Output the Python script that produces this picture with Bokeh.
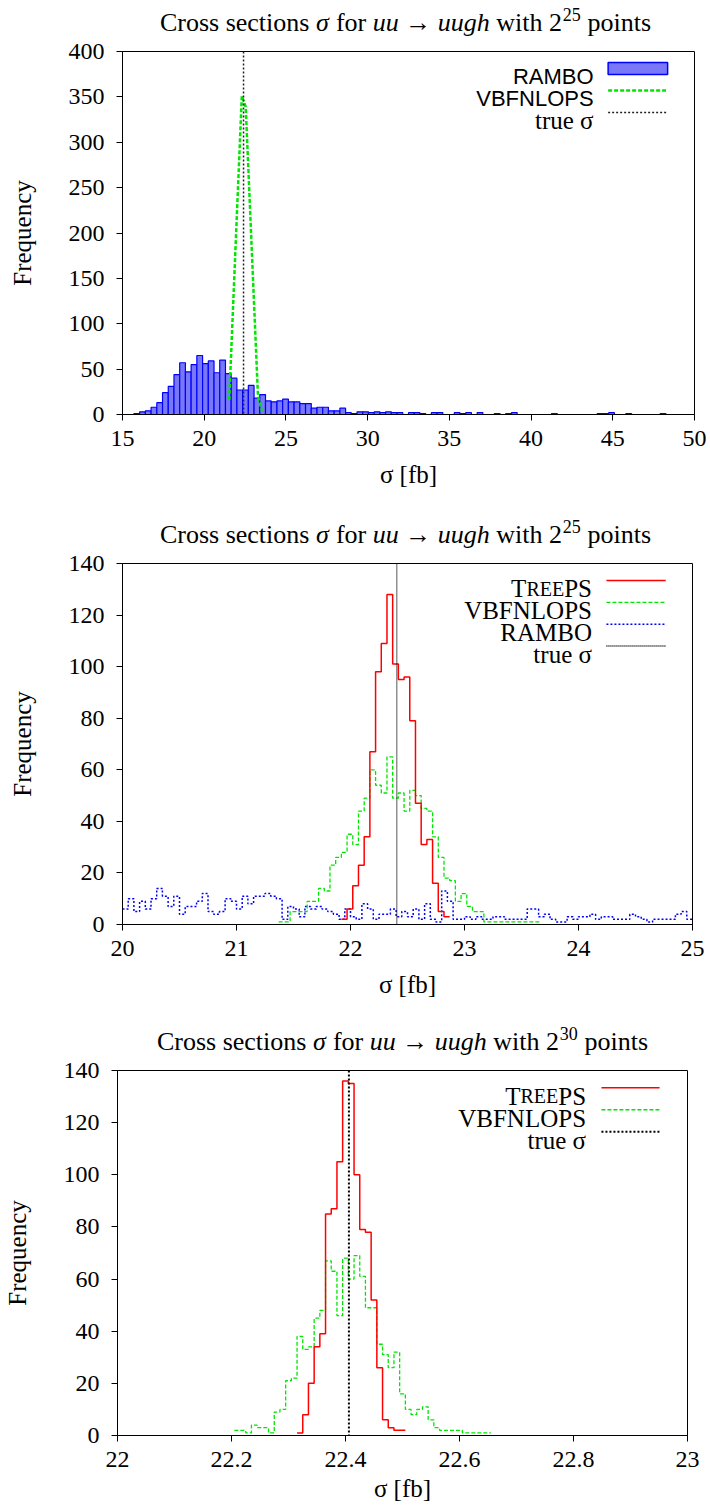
from bokeh.plotting import figure
from bokeh.models import Range1d, FixedTicker, Label, Span
from bokeh.layouts import column, row
from bokeh.embed import file_html
from bokeh.resources import INLINE

# ---------------- data ----------------
true_sigma = 22.406

# Panel 1: 2^25 points, wide range
p1_sup = "25"
p1_x_ticks = [15, 20, 25, 30, 35, 40, 45, 50]
p1_y_ticks = [0, 50, 100, 150, 200, 250, 300, 350, 400]
rambo1_start = 15.0
rambo1_width = 0.35
rambo1_counts = [0, 0, 1, 3, 4, 8, 13, 24, 31, 44, 57, 47, 55, 65, 56, 59, 46, 60, 45, 40,
                 27, 27, 32, 18, 22, 15, 14, 15, 17, 14, 14, 12, 12, 7, 8, 8, 4, 4, 7, 2,
                 1, 3, 3, 2, 3, 2, 3, 2, 2, 0, 2, 2, 1, 0, 2, 2, 0, 0, 2, 1,
                 2, 0, 2, 0, 0, 1, 0, 1, 2, 0, 0, 0, 0, 0, 0, 1, 0, 0, 0, 0,
                 0, 0, 0, 1, 1, 2, 0, 0, 1, 0, 0, 0, 0, 0, 1, 0, 0, 0, 0, 0]
vbf1_x = [21.53, 22.30, 22.54, 23.29, 23.53]
vbf1_y = [16, 351, 339, 20, 4]

# Panel 2: 2^25 points, zoomed
p2_sup = "25"
p2_x_ticks = [20, 21, 22, 23, 24, 25]
p2_y_ticks = [0, 20, 40, 60, 80, 100, 120, 140]
bin2_width = 0.05
tree2_start = 21.92
tree2_counts = [2, 6, 15, 23, 34, 67, 98, 109, 128, 101, 95, 96, 79, 47, 31, 33, 16, 5, 3]
vbf2_start = 21.37
vbf2_counts = [1, 1, 5, 5, 5, 9, 9, 14, 13, 23, 26, 28, 35, 31, 44, 49, 60, 54, 51, 65,
               49, 51, 44, 52, 50, 45, 44, 34, 26, 18, 17, 9, 12, 7, 5, 5, 1, 1, 1, 1,
               1, 1, 1, 1, 1, 1]
rambo2_start = 20.0
rambo2_counts = [6, 10, 5, 9, 6, 10, 14, 11, 7, 11, 4, 7, 7, 9, 12, 5, 4, 5, 10, 9,
                 6, 11, 8, 11, 11, 12, 11, 10, 2, 7, 6, 3, 7, 6, 7, 6, 5, 4, 2, 6,
                 3, 2, 8, 6, 2, 4, 4, 6, 3, 5, 3, 6, 2, 8, 2, 1, 13, 9, 2, 2,
                 3, 2, 3, 2, 2, 3, 3, 2, 2, 2, 2, 6, 6, 3, 4, 2, 1, 1, 3, 2,
                 3, 3, 4, 2, 3, 3, 2, 2, 2, 4, 3, 2, 1, 2, 2, 2, 2, 4, 5, 2]

# Panel 3: 2^30 points
p3_sup = "30"
p3_x_ticks = [22, 22.2, 22.4, 22.6, 22.8, 23]
p3_x_labels = ["22", "22.2", "22.4", "22.6", "22.8", "23"]
p3_y_ticks = [0, 20, 40, 60, 80, 100, 120, 140]
bin3_width = 0.01
tree3_start = 22.315
tree3_counts = [1, 8, 20, 34, 39, 85, 87, 105, 136, 135, 100, 79, 78, 52, 26, 6, 3, 2, 2]
vbf3_start = 22.205
vbf3_counts = [2, 2, 1, 4, 3, 3, 1, 9, 10, 21, 22, 38, 33, 34, 45, 48, 67, 63, 46, 68,
               60, 69, 61, 49, 49, 35, 31, 26, 32, 16, 10, 8, 10, 11, 6, 3, 2, 2, 2, 2,
               1, 1, 1, 1, 1]

# ---------------- styling ----------------
SERIF = "Liberation Serif"
SANS = "Liberation Sans"
RED = "#ff0000"
GREEN = "#00e600"
BLUE = "#0000ff"
TITLE_PX = 26
W = 710


def make_fig(height, xr, yr, xticks, yticks, top, bottom, left, right):
    p = figure(width=W, height=height, x_range=Range1d(*xr), y_range=Range1d(*yr),
               output_backend="svg", toolbar_location=None)
    p.min_border_top = top
    p.min_border_bottom = bottom
    p.min_border_left = left
    p.min_border_right = right
    p.xgrid.visible = False
    p.ygrid.visible = False
    p.background_fill_color = "white"
    p.border_fill_color = "white"
    p.outline_line_color = "black"
    p.outline_line_alpha = 1
    p.outline_line_width = 1
    for ax in (p.xaxis[0], p.yaxis[0]):
        ax.major_label_text_font = SERIF
        ax.major_label_text_font_size = "24px"
        ax.major_label_text_color = "black"
        ax.axis_label_text_font = SERIF
        ax.axis_label_text_font_size = "25px"
        ax.axis_label_text_font_style = "normal"
        ax.axis_label_text_color = "black"
        ax.minor_tick_line_color = None
        ax.major_tick_in = 0
        ax.major_tick_out = 6
        ax.major_tick_line_color = "black"
        ax.axis_line_color = "black"
    p.xaxis.ticker = FixedTicker(ticks=xticks)
    p.yaxis.ticker = FixedTicker(ticks=yticks)
    p.xaxis.axis_label = "σ [fb]"
    p.yaxis.axis_label = "Frequency"
    p.xaxis.major_label_standoff = 10
    p.xaxis.axis_label_standoff = 12
    p.yaxis.major_label_standoff = 12
    p.yaxis.axis_label_standoff = 30
    return p


def title_strip(height, center_px, baseline_from_top, sup):
    t = figure(width=W, height=height, x_range=Range1d(0, W), y_range=Range1d(0, height),
               output_backend="svg", toolbar_location=None, min_border=0)
    t.axis.visible = False
    t.xgrid.visible = False
    t.ygrid.visible = False
    t.outline_line_color = None
    t.background_fill_color = "white"
    t.border_fill_color = "white"
    # pieces: (text, italic, size factor, left offset in em/1000, raise in em, align)
    pieces = [("Cross", False, 1.0, 0, 0, "left"),
              ("sections", False, 1.0, 2528, 0, "left"),
              ("σ", True, 1.0, 6000, 0, "left"),
              ("for", False, 1.0, 6770, 0, "left"),
              ("uu", True, 1.0, 8186, 0, "left"),
              ("→", False, 1.0, 9936, 0, "center"),
              ("uugh", True, 1.0, 10686, 0, "left"),
              ("with", False, 1.0, 12936, 0, "left"),
              ("2", False, 1.0, 14964, 0, "left"),
              (sup, False, 0.7, 15494, 0.31, "left"),
              ("points", False, 1.0, 16444, 0, "left")]
    total = 18889
    yb = height - baseline_from_top
    for txt, ital, sf, off, rise, align in pieces:
        t.add_layout(Label(x=center_px + (off - total / 2) * TITLE_PX / 1000.0,
                           y=yb + rise * TITLE_PX, text=txt, text_align=align,
                           text_baseline="alphabetic", text_font=SERIF,
                           text_font_style="italic" if ital else "normal",
                           text_font_size=f"{round(TITLE_PX * sf)}px", text_color="black"))
    return t


def step_hist(p, start, width, counts, **kw):
    edges = [start + width * i for i in range(len(counts) + 1)]
    ys = list(counts) + [counts[-1]]
    p.step(x=edges, y=ys, mode="after", **kw)


def add_legend(p, xr, yr, frame_h, entries, text_frac=0.8236, s0=0.849, s1=0.953):
    ppu = frame_h / (yr[1] - yr[0])
    xt = xr[0] + text_frac * (xr[1] - xr[0])
    xs0 = xr[0] + s0 * (xr[1] - xr[0])
    xs1 = xr[0] + s1 * (xr[1] - xr[0])
    for i, (pieces, kind, style) in enumerate(entries):
        yc = yr[1] - (0.047 + 0.0605 * i) * (yr[1] - yr[0])
        base_size = pieces[0][2]
        yb = yc - 0.34 * base_size / ppu
        for txt, font, size, xoff in pieces:
            p.add_layout(Label(x=xt, y=yb, x_offset=xoff, text=txt, text_align="right",
                               text_baseline="alphabetic", text_font=font,
                               text_font_size=f"{size}px", text_color="black"))
        if kind == "box":
            h = 6.0 / ppu
            p.quad(left=[xs0], right=[xs1], bottom=[yc - h], top=[yc + h], **style)
        else:
            p.line([xs0, xs1], [yc, yc], **style)


def treeps_pieces():
    return [("PS", SERIF, 25, 0), ("REE", SERIF, 20, -27.8), ("T", SERIF, 25, -27.8 - 37.8)]


# ---------------- panel 1 ----------------
t1 = title_strip(37, 405, 22, p1_sup)
xr1, yr1 = (15, 50), (0, 400)
p1 = make_fig(473, xr1, yr1, p1_x_ticks, p1_y_ticks, 14, 96, 122, 16)
lefts = [rambo1_start + rambo1_width * i for i in range(len(rambo1_counts))]
rights = [l + rambo1_width for l in lefts]
p1.quad(left=lefts, right=rights, bottom=0, top=rambo1_counts,
        fill_color="#7878f8", line_color=BLUE, line_width=1.2)
vbf_style1 = dict(line_color=GREEN, line_width=2.5, line_dash="4 2")
p1.line(vbf1_x, vbf1_y, **vbf_style1)
ts_style1 = dict(line_color="#222222", line_width=1.5, line_dash="2 2")
p1.add_layout(Span(location=true_sigma, dimension="height", **ts_style1))
add_legend(p1, xr1, yr1, 363, [
    ([("RAMBO", SANS, 22, 0)], "box", dict(fill_color="#7878f8", line_color=BLUE, line_width=1.5)),
    ([("VBFNLOPS", SANS, 22, 0)], "line", vbf_style1),
    ([("true σ", SERIF, 25, 0)], "line", ts_style1),
])

# ---------------- panel 2 ----------------
t2 = title_strip(39, 405, 24, p2_sup)
xr2, yr2 = (20, 25), (0, 140)
p2 = make_fig(461, xr2, yr2, p2_x_ticks, p2_y_ticks, 14, 86, 122, 18)
tree_style = dict(line_color=RED, line_width=1.5)
vbf_style = dict(line_color=GREEN, line_width=1.3, line_dash="4 2")
rambo_style = dict(line_color=BLUE, line_width=1.5, line_dash="2 2")
ts_style2 = dict(line_color="black", line_width=1.3, line_dash="1 1")
step_hist(p2, rambo2_start, bin2_width, rambo2_counts, **rambo_style)
step_hist(p2, vbf2_start, bin2_width, vbf2_counts, **vbf_style)
step_hist(p2, tree2_start, bin2_width, tree2_counts, **tree_style)
p2.add_layout(Span(location=true_sigma, dimension="height", **ts_style2))
add_legend(p2, xr2, yr2, 361, [
    (treeps_pieces(), "line", tree_style),
    ([("VBFNLOPS", SERIF, 25, 0)], "line", vbf_style),
    ([("RAMBO", SERIF, 25, 0)], "line", rambo_style),
    ([("true σ", SERIF, 25, 0)], "line", ts_style2),
])

# ---------------- panel 3 ----------------
t3 = title_strip(46, 402, 31, p3_sup)
xr3, yr3 = (22, 23), (0, 140)
p3 = make_fig(453, xr3, yr3, p3_x_ticks, p3_y_ticks, 14, 74, 117, 23)
p3.xaxis.axis_label_standoff = 5
p3.xaxis.major_label_overrides = {t: s for t, s in zip(p3_x_ticks, p3_x_labels)}
ts_style3 = dict(line_color="black", line_width=2, line_dash="2 2")
step_hist(p3, vbf3_start, bin3_width, vbf3_counts, **vbf_style)
step_hist(p3, tree3_start, bin3_width, tree3_counts, **tree_style)
p3.add_layout(Span(location=true_sigma, dimension="height", **ts_style3))
add_legend(p3, xr3, yr3, 365, [
    (treeps_pieces(), "line", tree_style),
    ([("VBFNLOPS", SERIF, 25, 0)], "line", vbf_style),
    ([("true σ", SERIF, 25, 0)], "line", ts_style3),
], text_frac=0.822, s0=0.849, s1=0.951)

# each figure in its own row so that the plot frames are not aligned with each other
layout = column(row(t1), row(p1), row(t2), row(p2), row(t3), row(p3), spacing=0)
open("out.html", "w").write(file_html(layout, INLINE))
